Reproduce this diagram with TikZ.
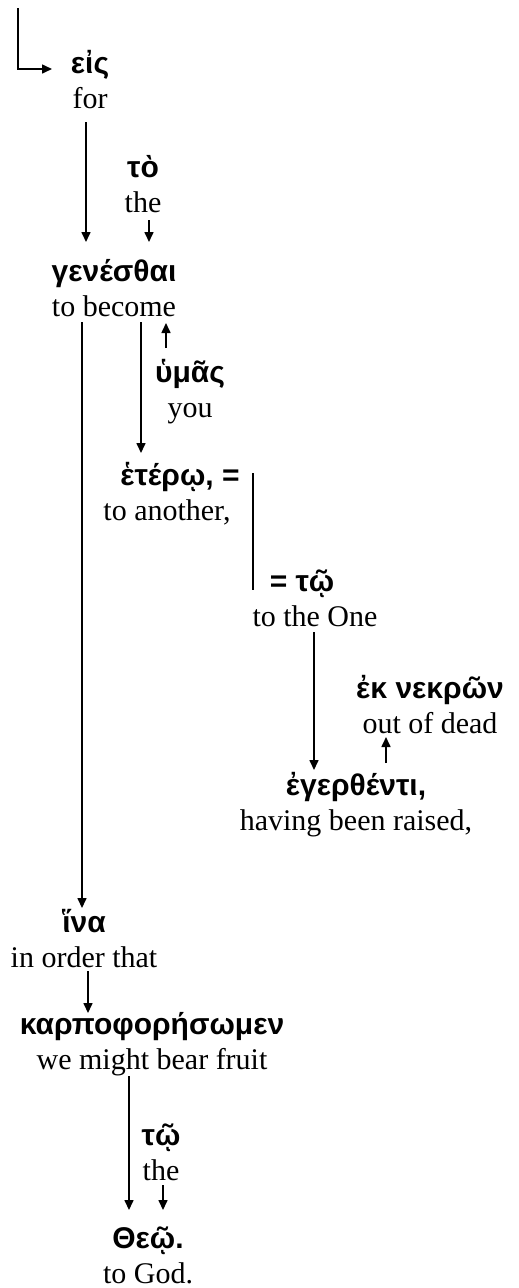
\documentclass[tikz,border=0pt]{standalone}
\usepackage{fontspec}
\setmainfont{Liberation Serif}
\newfontfamily\grkfont{Liberation Sans}
\usepackage{tikz}
\usetikzlibrary{arrows.meta,calc}
\newcommand{\gk}[1]{{\grkfont\bfseries #1}}

\begin{document}
\begin{tikzpicture}[x=1pt, y=-1pt,
    word/.style={align=center, inner sep=0pt, font=\fontsize{30}{35}\selectfont},
    arr/.style={-{Triangle[length=10pt,width=9pt]}, line width=1.6pt},
    bar/.style={line width=1.6pt}
]
\useasboundingbox (0,0) rectangle (519,1288);
\node[word] (eis) at (90,80) {\gk{εἰς}\\for};
\node[word] (art1) at (143,184) {\gk{τὸ}\\the};
\node[word] (gen) at (114,288) {\gk{γενέσθαι}\\to become};
\node[word] (hym) at (190,392) {\gk{ὑμᾶς}\\you};
\node[word] (het) at (167,494) {\gk{ἑτέρῳ,\rlap{ =}}\\to another,};
\node[word] (tw1) at (315,598) {\gk{\llap{= }τῷ}\\to the One};
\node[word] (ek) at (430,705) {\gk{ἐκ νεκρῶν}\\out of dead};
\node[word] (eger) at (356,805) {\gk{ἐγερθέντι,}\\having been raised,};
\node[word] (hina) at (84,939) {\gk{ἵνα}\\in order that};
\node[word] (karp) at (152,1044) {\gk{καρποφορήσωμεν}\\we might bear fruit};
\node[word] (art2) at (161,1152) {\gk{τῷ}\\the};
\node[word] (theo) at (148,1255) {\gk{Θεῷ.}\\to God.};
\coordinate (start) at (18,8);
\draw[arr] (start) |- ($(eis)+(-38,-11)$);
\draw[arr] ($(eis)+(-4,42)$) -- ($(gen)+(-28,-46)$);
\draw[arr] ($(art1)+(6,36)$) -- ($(gen)+(35,-46)$);
\draw[arr] ($(gen)+(-32,34)$) -- ($(hina)+(-2,-31)$);
\draw[arr] ($(gen)+(27,34)$) -- ($(het)+(-26,-41)$);
\draw[arr] ($(hym)+(-24,-44)$) -- ($(gen)+(52,35)$);
\draw[bar] ($(het)+(86,-21)$) -- ($(tw1)+(-62,-8)$);
\draw[arr] ($(tw1)+(-1,34)$) -- ($(eger)+(-42,-35)$);
\draw[arr] ($(eger)+(30,-42)$) -- ($(ek)+(-44,32)$);
\draw[arr] ($(hina)+(4,32)$) -- ($(karp)+(-64,-31)$);
\draw[arr] ($(karp)+(-23,32)$) -- ($(theo)+(-19,-45)$);
\draw[arr] ($(art2)+(2,33)$) -- ($(theo)+(15,-45)$);
\end{tikzpicture}
\end{document}
